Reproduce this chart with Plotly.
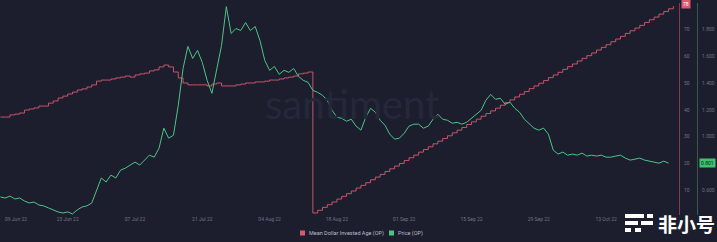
import pandas as pd
import plotly.graph_objects as go

# ---------------- data ----------------
start_date = "2022-06-09"

price_op = [
    0.548, 0.540, 0.555, 0.533, 0.540, 0.518, 0.503, 0.510, 0.488, 0.481,
    0.466, 0.451, 0.436, 0.428, 0.436, 0.421, 0.451, 0.473, 0.481, 0.503,
    0.600, 0.690, 0.660, 0.712, 0.690, 0.749, 0.764, 0.787, 0.809, 0.787,
    0.824, 0.861, 0.846, 0.913, 1.063, 0.988, 1.010, 1.234, 1.510, 1.675,
    1.585, 1.645, 1.555, 1.421, 1.324, 1.496, 1.682, 1.973, 1.772, 1.809,
    1.794, 1.854, 1.794, 1.824, 1.719, 1.570, 1.496, 1.525, 1.466, 1.496,
    1.481, 1.510, 1.451, 1.421, 1.406, 1.346, 1.331, 1.309, 1.272, 1.197,
    1.145, 1.137, 1.115, 1.130, 1.078, 1.048, 1.145, 1.212, 1.182, 1.122,
    1.085, 1.018, 0.981, 0.988, 1.025, 1.078, 1.093, 1.093, 1.063, 1.078,
    1.130, 1.167, 1.130, 1.122, 1.100, 1.107, 1.093, 1.107, 1.137, 1.167,
    1.197, 1.272, 1.316, 1.279, 1.287, 1.242, 1.257, 1.212, 1.182, 1.130,
    1.093, 1.063, 1.048, 1.063, 1.018, 0.899, 0.869, 0.884, 0.861, 0.869,
    0.861, 0.876, 0.854, 0.861, 0.854, 0.861, 0.846, 0.846, 0.854, 0.861,
    0.839, 0.824, 0.831, 0.839, 0.824, 0.816, 0.809, 0.801, 0.816, 0.801,
]

mdia_op = [
    37.3, 37.3, 38.1, 38.4, 38.8, 39.9, 40.3, 40.7, 41.4, 41.4,
    42.5, 43.3, 44.4, 45.1, 45.9, 46.6, 47.4, 47.8, 48.5, 49.3,
    50.7, 51.1, 51.1, 51.5, 51.9, 52.2, 52.6, 52.2, 53.0, 53.4,
    53.7, 54.5, 54.9, 56.0, 56.7, 56.0, 54.1, 51.9, 50.0, 49.3,
    49.3, 49.3, 49.3, 48.9, 49.6, 50.0, 48.9, 48.9, 48.9, 49.3,
    49.6, 50.0, 50.0, 50.4, 50.4, 50.7, 51.1, 51.1, 51.5, 51.9,
    52.2, 52.6, 53.4, 53.7, 54.1,
    1.5, 2.5, 3.6, 4.6, 5.6, 6.7, 7.7, 8.7, 9.7, 10.8,
    11.8, 12.8, 13.9, 14.9, 15.9, 17.0, 18.0, 19.0, 20.0, 21.1,
    22.1, 23.1, 24.2, 25.2, 26.2, 27.3, 28.3, 29.3, 30.3, 31.4,
    32.4, 33.4, 34.5, 35.5, 36.5, 37.6, 38.6, 39.6, 40.6, 41.7,
    42.7, 43.7, 44.8, 45.8, 46.8, 47.9, 48.9, 49.9, 50.9, 52.0,
    53.0, 54.0, 55.1, 56.1, 57.1, 58.2, 59.2, 60.2, 61.2, 62.3,
    63.3, 64.3, 65.4, 66.4, 67.4, 68.5, 69.5, 70.5, 71.5, 72.6,
    73.6, 74.6, 75.7, 76.7, 77.7, 78.7,
]

x_tick_dates = ["2022-06-23", "2022-07-07", "2022-07-21", "2022-08-04", "2022-08-18",
                "2022-09-01", "2022-09-15", "2022-09-29", "2022-10-13"]
first_tick_label = "09 Jun 22"
mdia_ticks = [10, 20, 30, 40, 50, 60, 70]
price_ticks = [0.6, 0.8, 1.0, 1.2, 1.4, 1.6, 1.8, 2.0]
mdia_badge = "78"
price_badge = "0.801"

price_dates = pd.date_range(start_date, periods=len(price_op), freq="D")
mdia_dates = pd.date_range(start_date, periods=len(mdia_op), freq="D")

# ---------------- styling ----------------
BG = "#1c1e2e"
RED = "#d95a70"
GREEN = "#4cc486"
TICK = "#6f7385"
FONT = "Roboto"

FIG_W = 717.0
PLOT_W = 678.0   # x-axis width in px
PLOT_TOP = 3.0
PLOT_BOT = 215.0
PLOT_H = PLOT_BOT - PLOT_TOP


def px(xp):
    return xp / FIG_W


def py(yp):
    return (PLOT_BOT - yp) / PLOT_H


fig = go.Figure()

fig.add_trace(go.Scatter(
    x=mdia_dates, y=mdia_op, name="Mean Dollar Invested Age (OP)",
    mode="lines", line=dict(color=RED, width=0.9, shape="hv"), yaxis="y",
))
fig.add_trace(go.Scatter(
    x=price_dates, y=price_op, name="Price (OP)",
    mode="lines", line=dict(color=GREEN, width=1), yaxis="y2",
))

fig.update_layout(
    width=717, height=242,
    margin=dict(l=0, r=0, t=PLOT_TOP, b=242 - PLOT_BOT),
    paper_bgcolor=BG, plot_bgcolor=BG,
    showlegend=False,
    font=dict(family=FONT, color=TICK, size=5),
    xaxis=dict(
        domain=[0, PLOT_W / FIG_W],
        range=["2022-06-08 22:00", "2022-10-27 23:00"],
        tickvals=x_tick_dates, tickformat="%d %b %y",
        showgrid=False, zeroline=False, showline=False,
        ticks="", tickfont=dict(size=5, color=TICK),
    ),
    yaxis=dict(
        range=[0.75, 79.85], side="right", anchor="free", position=px(679),
        tickvals=mdia_ticks, showgrid=False, zeroline=False,
        showline=True, linecolor="#7a3e4c", linewidth=1,
        ticks="", ticklabelstandoff=3, tickfont=dict(size=5, color=TICK),
    ),
    yaxis2=dict(
        range=[0.413, 2.0], side="right", anchor="free", position=px(697),
        overlaying="y", tickvals=price_ticks, tickformat=".3f",
        showgrid=False, zeroline=False,
        showline=True, linecolor="#2f5e4a", linewidth=1,
        ticks="", ticklabelstandoff=3, tickfont=dict(size=5, color=TICK),
    ),
)

annotations = [
    # watermark
    dict(text="santiment", xref="paper", yref="paper", x=px(352), y=py(104),
         showarrow=False, font=dict(family="Lato", size=40, color="#25283a")),
    # first x tick label (shifted in from the left edge)
    dict(text=first_tick_label, xref="paper", yref="paper", x=px(3), y=py(219),
         xanchor="left", yanchor="middle", showarrow=False,
         font=dict(size=5, color=TICK)),
    # legend texts
    dict(text="Mean Dollar Invested Age (OP)", xref="paper", yref="paper",
         x=px(307), y=py(233), xanchor="left", yanchor="middle", showarrow=False,
         font=dict(size=5.5, color="#b8bccb")),
    dict(text="Price (OP)", xref="paper", yref="paper",
         x=px(396), y=py(233), xanchor="left", yanchor="middle", showarrow=False,
         font=dict(size=5.5, color="#b8bccb")),
    # value badges
    dict(text=mdia_badge, xref="paper", yref="paper", x=px(681), y=py(3.5),
         xanchor="left", yanchor="middle", showarrow=False, bgcolor=RED,
         borderpad=1, font=dict(size=5, color="white")),
    dict(text=price_badge, xref="paper", yref="y2", x=px(699), y=price_op[-1],
         xanchor="left", yanchor="middle", showarrow=False, bgcolor="#3ec46d",
         borderpad=1, font=dict(size=5, color="#0d2015")),
    # logo text
    dict(text="<b>非小号</b>", xref="paper", yref="paper", x=px(656), y=py(223),
         xanchor="left", yanchor="middle", showarrow=False,
         font=dict(family="Noto Sans CJK SC", size=19, color="white")),
]

shapes = [
    # legend squares
    dict(type="rect", xref="paper", yref="paper", x0=px(300), x1=px(305),
         y0=py(235.5), y1=py(230.5), fillcolor=RED, line=dict(width=0)),
    dict(type="rect", xref="paper", yref="paper", x0=px(389), x1=px(394),
         y0=py(235.5), y1=py(230.5), fillcolor=GREEN, line=dict(width=0)),
]
# logo icon (bars and dots)
logo_blocks = [
    (625, 644, 214, 218), (647, 653, 214, 218),
    (625, 638, 221, 225), (641, 653, 221, 225),
    (625, 631, 228, 232), (635, 641, 228, 232),
]
for x0, x1, y0, y1 in logo_blocks:
    shapes.append(dict(type="rect", xref="paper", yref="paper",
                       x0=px(x0), x1=px(x1), y0=py(y1), y1=py(y0),
                       fillcolor="white", line=dict(width=0)))

fig.update_layout(annotations=annotations, shapes=shapes)

fig.write_html("out.html")
